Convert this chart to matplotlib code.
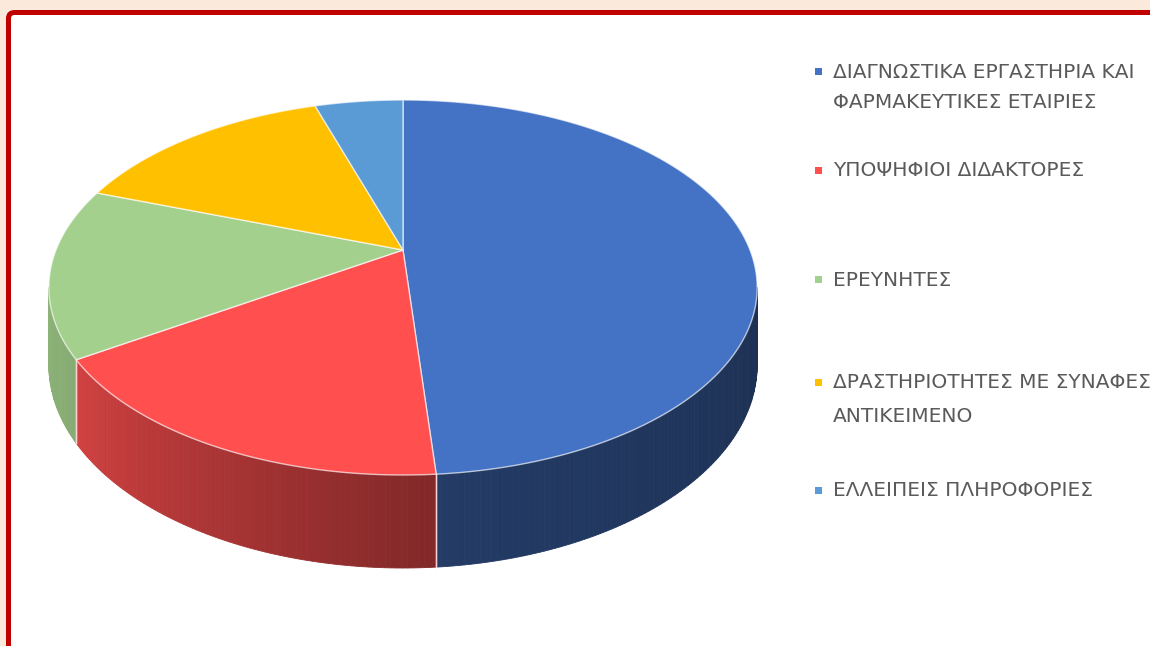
import numpy as np
import matplotlib
matplotlib.use('Agg')
import matplotlib.pyplot as plt
from matplotlib.patches import Polygon, FancyBboxPatch, Rectangle
from matplotlib.colors import to_rgb

# ---------------- data ----------------
categories = [
    'ΔΙΑΓΝΩΣΤΙΚΑ ΕΡΓΑΣΤΗΡΙΑ ΚΑΙ\nΦΑΡΜΑΚΕΥΤΙΚΕΣ ΕΤΑΙΡΙΕΣ',
    'ΥΠΟΨΗΦΙΟΙ ΔΙΔΑΚΤΟΡΕΣ',
    'ΕΡΕΥΝΗΤΕΣ',
    'ΔΡΑΣΤΗΡΙΟΤΗΤΕΣ ΜΕ ΣΥΝΑΦΕΣ\nΑΝΤΙΚΕΙΜΕΝΟ',
    'ΕΛΛΕΙΠΕΙΣ ΠΛΗΡΟΦΟΡΙΕΣ',
]
values = [20, 7, 6, 6, 2]
colors = ['#4472C4', '#FF4F4F', '#A3D08C', '#FFC000', '#5B9BD5']

# ---------------- layout ----------------
W, H = 1150, 646
fig = plt.figure(figsize=(W / 100, H / 100), dpi=100)
fig.patch.set_facecolor('#FBE9DB')
ax = fig.add_axes([0, 0, 1, 1])
ax.set_xlim(0, W)
ax.set_ylim(H, 0)
ax.axis('off')

ax.add_patch(FancyBboxPatch((8.5, 12.5), 1400, 900,
                            boxstyle='round,pad=0,rounding_size=6',
                            facecolor='white', edgecolor='#C00000',
                            linewidth=3.6, zorder=0))

# perspective pie geometry
cx, cy = 403, 250
R, S, K, DEPTH = 347, 180, 0.2, 74.4
VIS_A, VIS_B = 101.5, 258.5


def proj(theta_deg, z=0.0):
    t = np.radians(theta_deg)
    X, Y = np.sin(t), np.cos(t)
    w = 1 + K * Y
    return cx + R * X / w, cy - (S * Y + DEPTH * z) / w


def shade(theta):
    return np.interp(theta, [VIS_A, 178, 236, VIS_B], [0.42, 0.52, 0.82, 0.86])


total = float(sum(values))
ends = np.cumsum(values) / total * 360.0
starts = np.concatenate([[0.0], ends[:-1]])

# sides
for s, e, c in zip(starts, ends, colors):
    a, b = max(s, VIS_A), min(e, VIS_B)
    if a >= b:
        continue
    n = max(2, int(np.ceil((b - a) / 0.75)))
    ts = np.linspace(a, b, n + 1)
    base = np.array(to_rgb(c))
    for t0, t1 in zip(ts[:-1], ts[1:]):
        f = shade(0.5 * (t0 + t1))
        col = np.clip(base * f, 0, 1)
        x0, y0 = proj(t0)
        x1, y1 = proj(t1)
        x2, y2 = proj(t1, -1)
        x3, y3 = proj(t0, -1)
        ax.add_patch(Polygon([(x0, y0), (x1, y1), (x2, y2), (x3, y3)],
                             closed=True, facecolor=col, edgecolor=col,
                             linewidth=0.6, zorder=2))
    for t in (s, e):
        if VIS_A < t < VIS_B:
            xa, ya = proj(t)
            xb, yb = proj(t, -1)
            ax.plot([xa, xb], [ya, yb], color=(1, 0.85, 0.85, 0.8), lw=1.0, zorder=3)

# tops
for s, e, c in zip(starts, ends, colors):
    ts = np.linspace(s, e, max(3, int((e - s) / 0.5)))
    pts = [(cx, cy)] + [proj(t) for t in ts]
    ax.add_patch(Polygon(pts, closed=True, facecolor=c,
                         edgecolor=(1, 1, 1, 0.65), linewidth=1.0, zorder=4))

# legend
legend_y = [[72, 103], [171], [280], [383, 417], [491]]
text_x, mark_x, msize = 833, 815, 7
for cat, c, ys in zip(categories, colors, legend_y):
    ax.add_patch(Rectangle((mark_x, ys[0] - msize / 2 - 1), msize, msize,
                           facecolor=c, edgecolor='none', zorder=5))
    for line, y in zip(cat.split('\n'), ys):
        ax.text(text_x, y, line, ha='left', va='center', fontsize=14.5,
                color='#5A5A5A', family=['DejaVu Sans'], zorder=5)

fig.savefig('out.png', dpi=100, facecolor=fig.get_facecolor())
